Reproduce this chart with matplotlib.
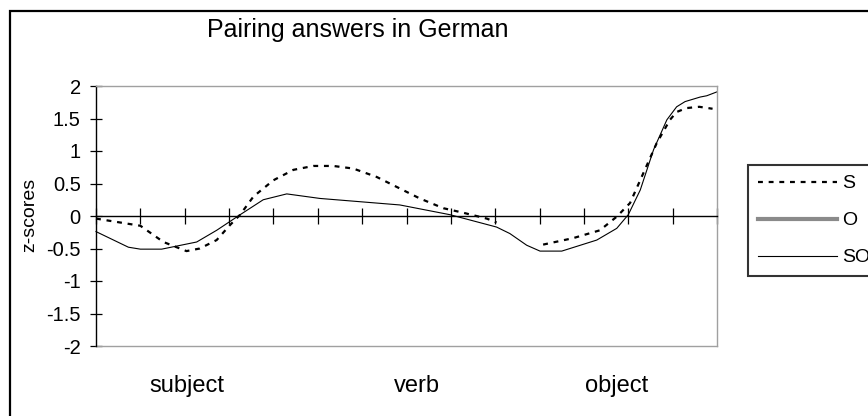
import numpy as np
import matplotlib
matplotlib.use("Agg")
import matplotlib.pyplot as plt
from matplotlib.lines import Line2D
from matplotlib.patches import Rectangle

plt.rcParams['font.family'] = ['Liberation Sans', 'DejaVu Sans']

title = "Pairing answers in German"
y_label = "z-scores"
series_names = ["S", "O", "SO"]
x_labels = ["subject", "verb", "object"]
x_label_pos = [2.04, 7.24, 11.73]
y_ticks = [-2, -1.5, -1, -0.5, 0, 0.5, 1, 1.5, 2]
y_tick_labels = ["-2", "-1.5", "-1", "-0.5", "0", "0.5", "1", "1.5", "2"]
n_categories = 14

# S series (dashed); NaN marks the break in the line
s_x = [0.0, 1.0, 1.52, 2.04, 2.34, 2.72, 3.02, 3.25, 3.55, 4.0, 4.45, 4.9, 5.35,
       5.8, 6.33, 6.83, 7.3, 7.83, 8.28, 8.81, 9.03, 9.5,
       10.08, 10.76, 11.36, 11.74, 12.04, 12.34, 12.64, 12.94, 13.09, 13.31, 13.6, 13.9]
s_y = [-0.04, -0.15, -0.40, -0.54, -0.50, -0.37, -0.14, 0.02, 0.30, 0.55, 0.71, 0.77, 0.77,
       0.73, 0.60, 0.43, 0.27, 0.12, 0.05, -0.04, -0.10, np.nan,
       -0.44, -0.34, -0.22, -0.01, 0.20, 0.66, 1.12, 1.48, 1.60, 1.66, 1.68, 1.65]

# O series (not visible in the plotted area)
o_x = [0.0, 14.0]
o_y = [np.nan, np.nan]

# SO series (thin solid)
so_x = [0.0, 0.73, 1.0, 1.48, 2.27, 2.72, 3.25, 3.77, 4.3, 5.05, 6.85,
        7.98, 9.03, 9.33, 9.71, 10.01, 10.5, 11.29, 11.74, 12.0, 12.27, 12.57,
        12.87, 13.09, 13.28, 13.62, 13.77, 14.0]
so_y = [-0.24, -0.48, -0.51, -0.51, -0.40, -0.22, 0.02, 0.25, 0.34, 0.27, 0.17,
        0.02, -0.17, -0.27, -0.45, -0.54, -0.54, -0.37, -0.19, 0.02, 0.40, 1.02,
        1.48, 1.68, 1.76, 1.83, 1.85, 1.91]

W, H = 868, 416
fig = plt.figure(figsize=(W / 100, H / 100), dpi=100)
fig.patch.set_facecolor('white')

# outer chart frame (extends past the right and bottom edges)
fig.patches.append(Rectangle((10 / W, -0.2), 1.2, (1 - 11 / H) + 0.2,
                             transform=fig.transFigure, fill=False,
                             edgecolor='black', linewidth=1.6))

ax = fig.add_axes([96 / W, 1 - 346 / H, 621 / W, 260 / H])
ax.set_xlim(0, n_categories)
ax.set_ylim(-2, 2)

gray = '#a0a0a0'
ax.spines['left'].set_color('black')
ax.spines['left'].set_linewidth(1.0)
for side in ['top', 'right']:
    ax.spines[side].set_color(gray)
    ax.spines[side].set_linewidth(1.0)
ax.spines['bottom'].set_position(('data', 0))
ax.spines['bottom'].set_color('black')
ax.spines['bottom'].set_linewidth(1.0)
ax.add_line(Line2D([0, 1], [0, 0], transform=ax.transAxes, color=gray, lw=1.0, clip_on=False))

ax.set_xticks(np.arange(0, n_categories + 1))
ax.set_xticklabels([])
ax.tick_params(axis='x', direction='inout', length=12, width=0.9, color='black')
ax.set_yticks(y_ticks)
ax.set_yticklabels(y_tick_labels, fontsize=14.5)
ax.tick_params(axis='y', direction='inout', length=8, width=0.9, color='black', pad=7)

ls_s, = ax.plot(s_x, s_y, color='black', lw=1.6, linestyle=(0, (2.2, 2.6)), clip_on=False)
ls_o, = ax.plot(o_x, o_y, color='#8a8a8a', lw=3.0)
ls_so, = ax.plot(so_x, so_y, color='black', lw=0.8, clip_on=False)

trans = matplotlib.transforms.blended_transform_factory(ax.transData, ax.transAxes)
for lab, pos in zip(x_labels, x_label_pos):
    ax.text(pos, -(392 - 346) / 260, lab, transform=trans, ha='center', va='baseline', fontsize=17)

fig.text(207 / W, 1 - 37 / H, title, ha='left', va='baseline', fontsize=18)
fig.text(30 / W, 1 - 215 / H, y_label, rotation=90, ha='center', va='center', fontsize=14)

leg = fig.legend([ls_s, ls_o, ls_so], series_names, loc='upper left',
                 bbox_to_anchor=(748 / W, 1 - 165 / H), frameon=True, fancybox=False,
                 fontsize=14, handlelength=4.1, handletextpad=0.25, labelspacing=1.0,
                 borderpad=0.5, borderaxespad=0)
leg.get_frame().set_edgecolor('black')
leg.get_frame().set_linewidth(1.5)

fig.savefig('out.png', dpi=100, facecolor='white')
